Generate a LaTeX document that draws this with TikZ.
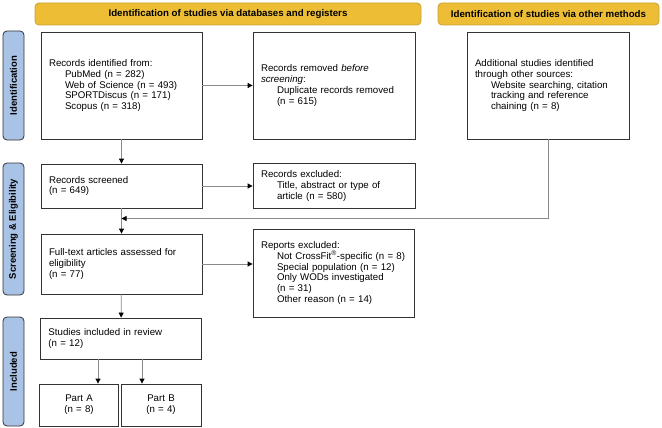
\documentclass[tikz,border=0pt]{standalone}
\usepackage{fontspec}
\setmainfont{Liberation Sans}
\usetikzlibrary{arrows.meta,calc}
\definecolor{hdr}{HTML}{EDBE35}
\definecolor{hdrline}{HTML}{C8A030}
\definecolor{sidefill}{HTML}{A9C3E6}
\definecolor{conn}{HTML}{8A8A8A}
\newcommand{\ind}{\hspace*{16pt}}
\begin{document}
\begin{tikzpicture}[x=1pt,y=-1pt,
  box/.style={draw=black!80, line width=0.8pt, fill=white, align=left, inner xsep=8pt, inner ysep=0pt, font=\fontsize{9.7}{10.8}\selectfont},
  cbox/.style={box, align=center},
  hdrbox/.style={draw=hdrline, line width=0.8pt, fill=hdr, rounded corners=4pt, inner sep=0pt, font=\bfseries\fontsize{9.7}{11}\selectfont},
  sidebox/.style={draw=black!80, line width=0.8pt, fill=sidefill, rounded corners=4pt, inner sep=0pt, rotate=90, minimum height=21pt, font=\bfseries\fontsize{9.5}{11}\selectfont},
  arr/.style={draw=conn, line width=0.8pt, -{Triangle[length=5pt,width=5pt,color=black]}}
]
\useasboundingbox (0,0) rectangle (662,428);

% headers
\node[hdrbox, minimum width=386pt, minimum height=22pt] (H1) at (228,14) {Identification of studies via databases and registers};
\node[hdrbox, minimum width=221pt, minimum height=22pt] (H2) at (548.5,14) {Identification of studies via other methods};

% side labels
\node[sidebox, minimum width=109pt] (S1) at (13.5,85.5) {Identification};
\node[sidebox, minimum width=132pt] (S2) at (13.5,229) {Screening \& Eligibility};
\node[sidebox, minimum width=109pt] (S3) at (13.5,371.5) {Included};

% boxes
\node[box, text width=145pt, minimum height=107pt] (RI) at (121.5,85.5)
  {Records identified from:\\\ind PubMed (n = 282)\\\ind Web of Science (n = 493)\\\ind SPORTDiscus (n = 171)\\\ind Scopus (n = 318)};
\node[box, text width=146pt, minimum height=107pt] (RR) at (334,85.5)
  {Records removed \textit{before}\\\textit{screening}:\\\ind Duplicate records removed\\\ind (n = 615)};
\node[box, text width=146pt, minimum height=107pt] (AD) at (548,85.5)
  {Additional studies identified\\through other sources:\\\ind Website searching, citation\\\ind tracking and reference\\\ind chaining (n = 8)};

\node[box, text width=145pt, minimum height=44pt] (RS) at (121.5,186)
  {Records screened\\(n = 649)};
\node[box, text width=146pt, minimum height=45pt] (RE) at (334,186)
  {Records excluded:\\\ind Title, abstract or type of\\\ind article (n = 580)};

\node[box, text width=145pt, minimum height=60pt] (FT) at (121.5,264)
  {Full-text articles assessed for\\eligibility\\(n = 77)};
\node[box, text width=145pt, minimum height=88pt] (RX) at (333.5,273)
  {Reports excluded:\\\ind Not CrossFit\textsuperscript{®}-specific (n = 8)\\\ind Special population (n = 12)\\\ind Only WODs investigated\\\ind (n = 31)\\\ind Other reason (n = 14)};

\node[box, text width=145pt, minimum height=41pt] (SI) at (121,338.5)
  {Studies included in review\\(n = 12)};
\node[cbox, text width=63pt, minimum height=42pt] (PA) at (79,405)
  {Part A\\(n = 8)};
\node[cbox, text width=64pt, minimum height=42pt] (PB) at (161,405)
  {Part B\\(n = 4)};

% connectors
\draw[arr] (RI) -- (RR);
\draw[arr] (RI) -- (RS);
\draw[arr] (RS) -- (RE);
\draw[arr] (RS) -- (FT);
\draw[arr] (AD.south) |- ($(RS.south)!0.4!(FT.north)$);
\draw[arr] (FT.east) -- (FT.east -| RX.west);
\draw[arr] (FT) -- (SI);
\draw[arr] ([xshift=-23pt]SI.south) -- ([xshift=-23pt]SI.south |- PA.north);
\draw[arr] ([xshift=21pt]SI.south) -- ([xshift=21pt]SI.south |- PB.north);
\end{tikzpicture}
\end{document}
